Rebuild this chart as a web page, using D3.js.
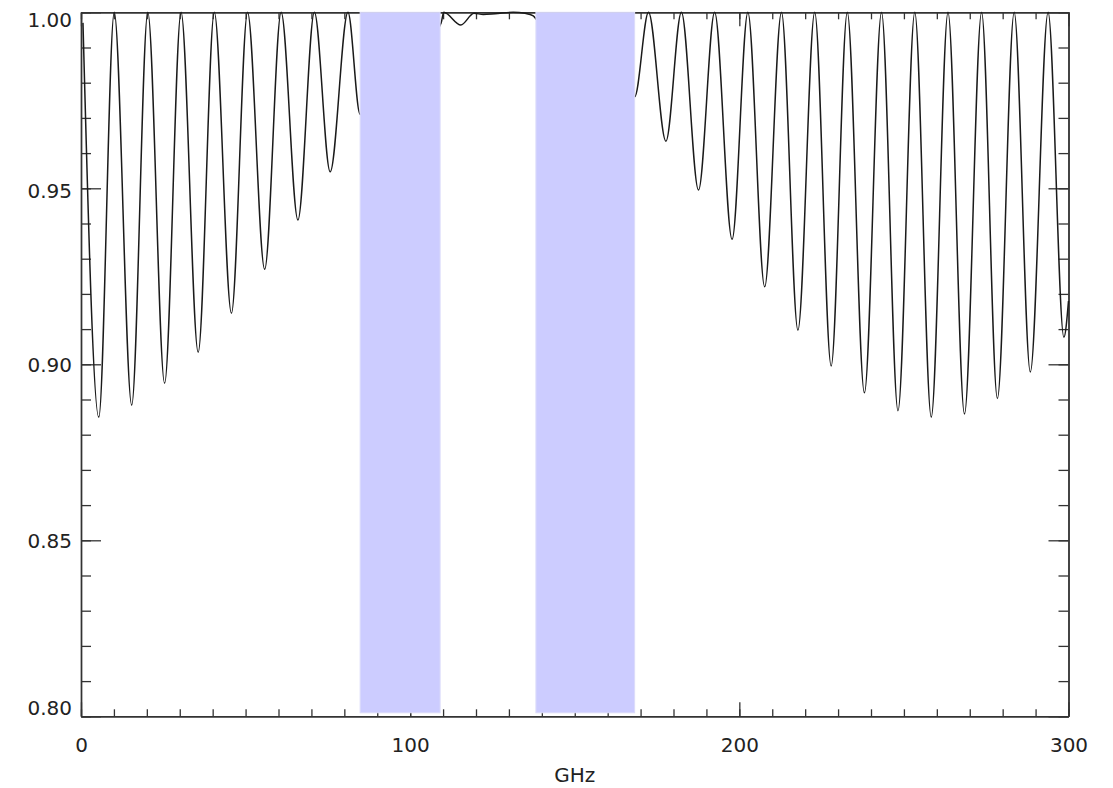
<!DOCTYPE html>
<html>
<head>
  <meta charset="utf-8">
  <title>Transmission</title>
  <script src="https://cdn.jsdelivr.net/npm/d3@7"></script>
  <style>
    body { margin: 0; background: #fff; }
    text { font-family: "DejaVu Sans", sans-serif; fill: #222; }
  </style>
</head>
<body>
<script>
// frequency (GHz) and transmission, read at the peaks and troughs of the picture
var freq  = [0.6, 5.4, 10.1, 15.4, 20.3, 25.4, 30.4, 35.6, 40.5, 45.7, 50.6, 55.8, 60.8, 65.9, 70.9, 75.7, 81.1, 84.8,
             109.4, 110.2, 115.4, 119.4, 122.2, 125.8, 131.3, 134.9, 137.4, 138.3,
             168.2, 172.4, 177.7, 182.4, 187.6, 192.5, 197.8, 202.6, 207.7, 212.8, 217.8, 222.9, 227.9, 232.8,
             238.0, 243.2, 248.2, 253.3, 258.3, 263.4, 268.4, 273.6, 278.4, 283.5, 288.4, 293.8, 298.6, 300];
var trans = [0.997, 0.885, 1.0, 0.8884, 1.0, 0.8946, 1.0, 0.9034, 1.0, 0.9145, 1.0, 0.927, 1.0, 0.941, 1.0, 0.9547, 1.0, 0.971,
             0.997, 1.0, 0.9964, 0.9997, 0.9994, 0.9996, 1.0, 0.9997, 0.999, 0.998,
             0.976, 1.0, 0.9634, 1.0, 0.9495, 1.0, 0.9355, 1.0, 0.922, 1.0, 0.9097, 1.0, 0.8995, 1.0,
             0.8919, 1.0, 0.8868, 1.0, 0.885, 1.0, 0.8859, 1.0, 0.8903, 1.0, 0.8978, 1.0, 0.9077, 0.918];

// shaded bands (GHz)
var bandStart = [84.8, 138.2];
var bandEnd   = [109.1, 168.2];

var xTicks = [0, 100, 200, 300];
var yTicks = [0.80, 0.85, 0.90, 0.95, 1.00];

var breite = 1113, hoehe = 788;
var links = 81, rechts = 1068.5, oben = 12.3, unten = 716.3;

var svg = d3.select("body").append("svg")
    .attr("width", breite)
    .attr("height", hoehe);

var x = d3.scaleLinear().domain([0, 300]).range([links, rechts]);
var y = d3.scaleLinear().domain([0.8, 1.0]).range([unten, oben]);

var xMinor = d3.range(0, 301, 10);
var yMinor = d3.range(0, 21).map(function(i) { return +(0.80 + i * 0.01).toFixed(2); });

function styleAxis(g) {
  g.selectAll("path").attr("stroke", "#333").attr("stroke-width", 1.4);
  g.selectAll("line").attr("stroke", "#333").attr("stroke-width", 1.3);
  g.selectAll("text").attr("font-size", 20).attr("fill", "#222")
    .style("font-family", "DejaVu Sans");
}

// minor ticks first
svg.append("g").attr("transform", "translate(" + links + ",0)")
   .call(d3.axisLeft(y).tickValues(yMinor).tickSize(-10).tickSizeOuter(0).tickFormat(""))
   .call(styleAxis);
svg.append("g").attr("transform", "translate(" + rechts + ",0)")
   .call(d3.axisRight(y).tickValues(yMinor).tickSize(-10).tickSizeOuter(0).tickFormat(""))
   .call(styleAxis);
svg.append("g").attr("transform", "translate(0," + unten + ")")
   .call(d3.axisBottom(x).tickValues(xMinor).tickSize(-7).tickSizeOuter(0).tickFormat(""))
   .call(styleAxis);
svg.append("g").attr("transform", "translate(0," + oben + ")")
   .call(d3.axisTop(x).tickValues(xMinor).tickSize(-7).tickSizeOuter(0).tickFormat(""))
   .call(styleAxis);

// major ticks with labels
var yAxis = svg.append("g").attr("transform", "translate(" + links + ",0)")
   .call(d3.axisLeft(y).tickValues(yTicks).tickSize(-20).tickSizeOuter(0).tickPadding(9).tickFormat(d3.format(".2f")))
   .call(styleAxis);
// end labels sit a bit inside the frame, like the original
yAxis.selectAll("text").attr("dy", function(d) {
  if (d === 1.00) return "0.72em";
  if (d === 0.80) return "-0.08em";
  if (d === 0.95) return "0.47em";
  return "0.35em";
});

svg.append("g").attr("transform", "translate(" + rechts + ",0)")
   .call(d3.axisRight(y).tickValues(yTicks).tickSize(-20).tickSizeOuter(0).tickFormat(""))
   .call(styleAxis);
svg.append("g").attr("transform", "translate(0," + unten + ")")
   .call(d3.axisBottom(x).tickValues(xTicks).tickSize(-14).tickSizeOuter(0).tickPadding(22).tickFormat(d3.format("d")))
   .call(styleAxis);
svg.append("g").attr("transform", "translate(0," + oben + ")")
   .call(d3.axisTop(x).tickValues(xTicks).tickSize(-14).tickSizeOuter(0).tickFormat(""))
   .call(styleAxis);

svg.append("text")
   .attr("x", x(150))
   .attr("y", 782)
   .attr("text-anchor", "middle")
   .attr("font-size", 20)
   .text("GHz");

// the curve
var line = d3.line()
   .x(function(d, i) { return x(freq[i]); })
   .y(function(d, i) { return y(trans[i]); })
   .curve(d3.curveMonotoneX);

svg.append("path")
   .attr("d", line(freq))
   .attr("fill", "none")
   .attr("stroke", "#1a1a1a")
   .attr("stroke-width", 1.5);

// bands over everything
svg.selectAll("rect.band")
   .data(bandStart)
   .enter().append("rect")
   .attr("class", "band")
   .attr("x", function(d) { return x(d); })
   .attr("width", function(d, i) { return x(bandEnd[i]) - x(d); })
   .attr("y", y(1.0))
   .attr("height", y(0.801) - y(1.0))
   .attr("fill", "#ccccff")
   .attr("stroke", "#dcdcfa")
   .attr("stroke-width", 1);
</script>
</body>
</html>
